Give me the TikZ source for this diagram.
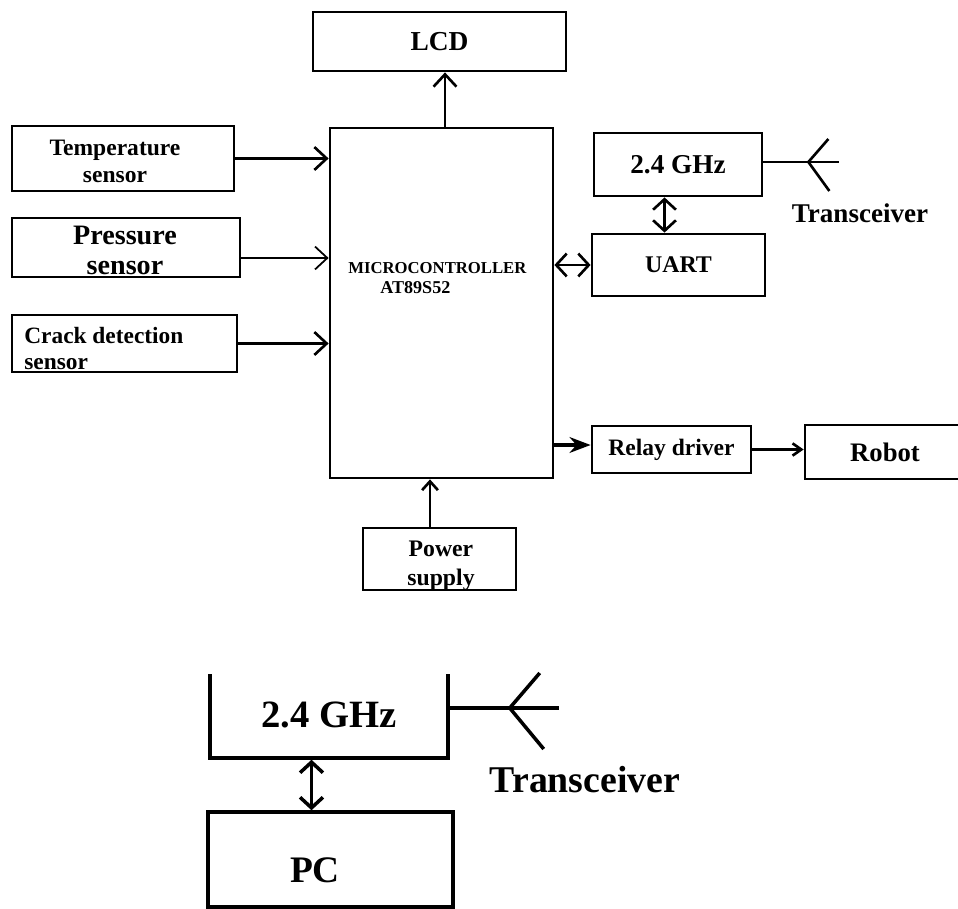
\documentclass[tikz,border=0pt]{standalone}
\usepackage{fontspec}
\setmainfont{Liberation Serif}
\usetikzlibrary{arrows.meta,calc}

% bold text at a given size / baselineskip
\newcommand{\bsize}[2]{\fontsize{#1}{#2}\selectfont\bfseries}

\tikzset{
  blk/.style={draw, line width=1.6pt, inner sep=0pt, align=center},
  txt/.style={inner sep=0pt, align=center},
  link/.style={line width=1.5pt},
  barb/.style={-{Straight Barb[length=7pt,width=13pt]}},
  bibarb/.style={{Straight Barb[length=6pt,width=13pt]}-{Straight Barb[length=6pt,width=13pt]}},
}

\begin{document}
\begin{tikzpicture}[x=0.02cm, y=-0.02cm]
\clip (0,0) rectangle (958,909);

% controller and display
\node[blk, minimum width=5.06cm, minimum height=1.18cm, font=\bsize{15.6}{18}] (lcd) at (439.5,41.5) {LCD};
\node[blk, minimum width=4.46cm, minimum height=7cm] (mcu) at (441.5,303) {};
\node[anchor=west, inner sep=0pt, font=\bsize{9.5}{11}] (mcuname) at (348,268) {MICROCONTROLLER};
\node[anchor=west, inner sep=0pt, font=\bsize{10.3}{12}] (mcupart) at (380,288) {AT89S52};

% sensors
\node[blk, minimum width=4.44cm, minimum height=1.3cm] (temp) at (123,158.5) {};
\node[txt, font=\bsize{13.4}{15.3}] (temptext) at (115,161) {Temperature\\sensor};
\node[blk, minimum width=4.56cm, minimum height=1.18cm] (pres) at (126,247.5) {};
\node[txt, font=\bsize{16}{17}] (prestext) at (125,250.5) {Pressure\\sensor};
\node[blk, minimum width=4.5cm, minimum height=1.14cm] (crack) at (124.5,343.5) {};
\node[txt, anchor=north west, align=left, font=\bsize{13.3}{14.5}] (cracktext) at (24,327) {Crack detection\\sensor};

% radio link
\node[blk, minimum width=3.36cm, minimum height=1.26cm, font=\bsize{15.5}{18}] (ghz) at (678,164.5) {2.4 GHz};
\node[blk, minimum width=3.46cm, minimum height=1.24cm, font=\bsize{13.6}{16}] (uart) at (678.5,265) {UART};
\node[font=\bsize{15.4}{18}] (trx) at (860,213) {Transceiver};

% outputs and supply
\node[blk, minimum width=3.18cm, minimum height=0.94cm, font=\bsize{13.4}{16}] (relay) at (671.5,449.5) {Relay driver};
\node[blk, minimum width=3.2cm, minimum height=1.08cm, font=\bsize{15.2}{18}] (robot) at (885,452) {Robot};
\node[blk, minimum width=3.06cm, minimum height=1.24cm] (power) at (439.5,559) {};
\node[txt, font=\bsize{13.5}{16.4}] (powertext) at (441,566) {Power\\supply};

\draw[link, barb] ([xshift=0.07cm]mcu.north) -- ([xshift=0.07cm]mcu.north |- lcd.south);
\draw[link, barb] (temp.east) -- (temp.east -| mcu.west);
\draw[line width=1pt, barb] ([yshift=-0.21cm]pres.east) -- ([yshift=-0.21cm]pres.east -| mcu.west);
\draw[link, barb] (crack.east) -- (crack.east -| mcu.west);
\draw[link, bibarb] (uart.west -| mcu.east) -- (uart.west);
\draw[link, bibarb] ([xshift=-0.27cm]ghz.south) -- ([xshift=-0.27cm]ghz.south |- uart.north);
\draw[line width=1.8pt, -{Stealth[length=12pt,width=9pt]}] ([yshift=0.09cm]relay.west -| mcu.east) -- ([yshift=0.09cm]relay.west);
\draw[link, -{Straight Barb[length=5pt,width=7pt]}] (relay.east) -- (relay.east -| robot.west);
\draw[link, -{Straight Barb[length=5pt,width=9pt]}] ([xshift=-0.19cm]power.north) -- ([xshift=-0.19cm]power.north |- mcu.south);

% antenna
\draw[link] ([yshift=0.05cm]ghz.east) -- ++(45,0) coordinate (ant) -- ++(31,0);
\draw[link] (ant) -- ++(20,-23) (ant) -- ++(21,29);

% PC side
\begin{scope}
  \clip (0,674) rectangle (958,909);
  \node[blk, line width=2pt, minimum width=4.76cm, minimum height=1.72cm, font=\bsize{22}{26}] (ghzb) at (329,715) {2.4 GHz};
\end{scope}
\node[font=\bsize{21.5}{25}] (trxb) at (585,780) {Transceiver};
\node[blk, line width=2pt, minimum width=4.9cm, minimum height=1.9cm] (pc) at (330.5,859.5) {};
\node[font=\bsize{21.3}{25}] (pclabel) at (315,870) {PC};

\draw[line width=2pt, bibarb] ([xshift=-0.38cm]pc.north) -- ([xshift=-0.38cm]pc.north |- ghzb.south);
\draw[line width=2pt] ([yshift=0.14cm]ghzb.east) -- ++(60,0) coordinate (antb) -- ++(49,0);
\draw[line width=2pt] (antb) -- ++(30,-35) (antb) -- ++(34,41);
\end{tikzpicture}
\end{document}
